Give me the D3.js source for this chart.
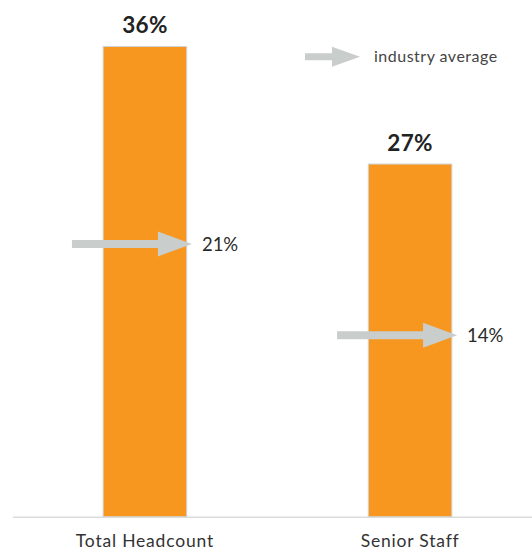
<!DOCTYPE html>
<html><head><meta charset="utf-8">
<script src="https://cdn.jsdelivr.net/npm/d3@7"></script>
<style>body{margin:0;background:#fff}svg{display:block}text{font-family:Lato,"Open Sans",sans-serif}</style>
</head><body>
<svg id="c" width="532" height="552"></svg>
<script>
const categories = ["Total Headcount", "Senior Staff"];
const values = [36, 27];
const industryAvg = [21, 14];
const valueLabels = ["36%", "27%"];
const avgLabels = ["21%", "14%"];
const legendLabel = "industry average";

const svg = d3.select("#c");
const baseY = 516.7;
const y = d3.scaleLinear().domain([0, 36]).range([baseY, 46.5]);
const x = d3.scaleBand().domain(categories).range([13, 542]).paddingInner(0.685).paddingOuter(0.34);

// axis line
svg.append("line").attr("x1", 13).attr("x2", 532).attr("y1", baseY + 0.5).attr("y2", baseY + 0.5)
  .attr("stroke", "#dcdcdc").attr("stroke-width", 1.5);

// bars
svg.selectAll("rect.bar").data(values).join("rect").attr("class", "bar")
  .attr("x", (d, i) => x(categories[i]))
  .attr("width", x.bandwidth())
  .attr("y", d => y(d))
  .attr("height", d => baseY - y(d))
  .attr("fill", "#F7971F")
  .attr("stroke", "#d2d2d2").attr("stroke-width", 1);

// value labels
svg.selectAll("text.val").data(valueLabels).join("text").attr("class", "val")
  .attr("x", (d, i) => x(categories[i]) + x.bandwidth() / 2)
  .attr("y", (d, i) => y(values[i]) - 13.5)
  .attr("text-anchor", "middle").attr("font-size", 22.5).attr("font-weight", 700)
  .attr("letter-spacing", 0.3).attr("fill", "#222").text(d => d);

function arrow(g, x0, x1, cy, shaftH, headH, headL) {
  g.append("path")
    .attr("d", `M${x0},${cy - shaftH / 2}L${x1 - headL},${cy - shaftH / 2}L${x1 - headL},${cy - headH / 2}L${x1},${cy}L${x1 - headL},${cy + headH / 2}L${x1 - headL},${cy + shaftH / 2}L${x0},${cy + shaftH / 2}Z`)
    .attr("fill", "#C9CDCC");
}

// industry average arrows
industryAvg.forEach((v, i) => {
  const cx = x(categories[i]) + x.bandwidth() / 2;
  const cy = y(v) + 1.5;
  const x0 = cx - 73, x1 = cx + 47;
  arrow(svg, x0, x1, cy, 8, 25, 34);
  svg.append("text").attr("x", x1 + 10).attr("y", cy + 7)
    .attr("font-size", 18.5).attr("font-weight", 400).attr("fill", "#2a2a2a").text(avgLabels[i]);
});

// legend
arrow(svg, 305, 360, 56.7, 7, 20, 28);
svg.append("text").attr("x", 374).attr("y", 61.5).attr("font-size", 16).attr("letter-spacing", 0.5)
  .attr("fill", "#444").text(legendLabel);

// category labels
svg.selectAll("text.cat").data(categories).join("text").attr("class", "cat")
  .attr("x", d => x(d) + x.bandwidth() / 2)
  .attr("y", 547)
  .attr("text-anchor", "middle").attr("font-size", 17.5).attr("letter-spacing", 0.8).attr("fill", "#333").text(d => d);
</script>
</body></html>
